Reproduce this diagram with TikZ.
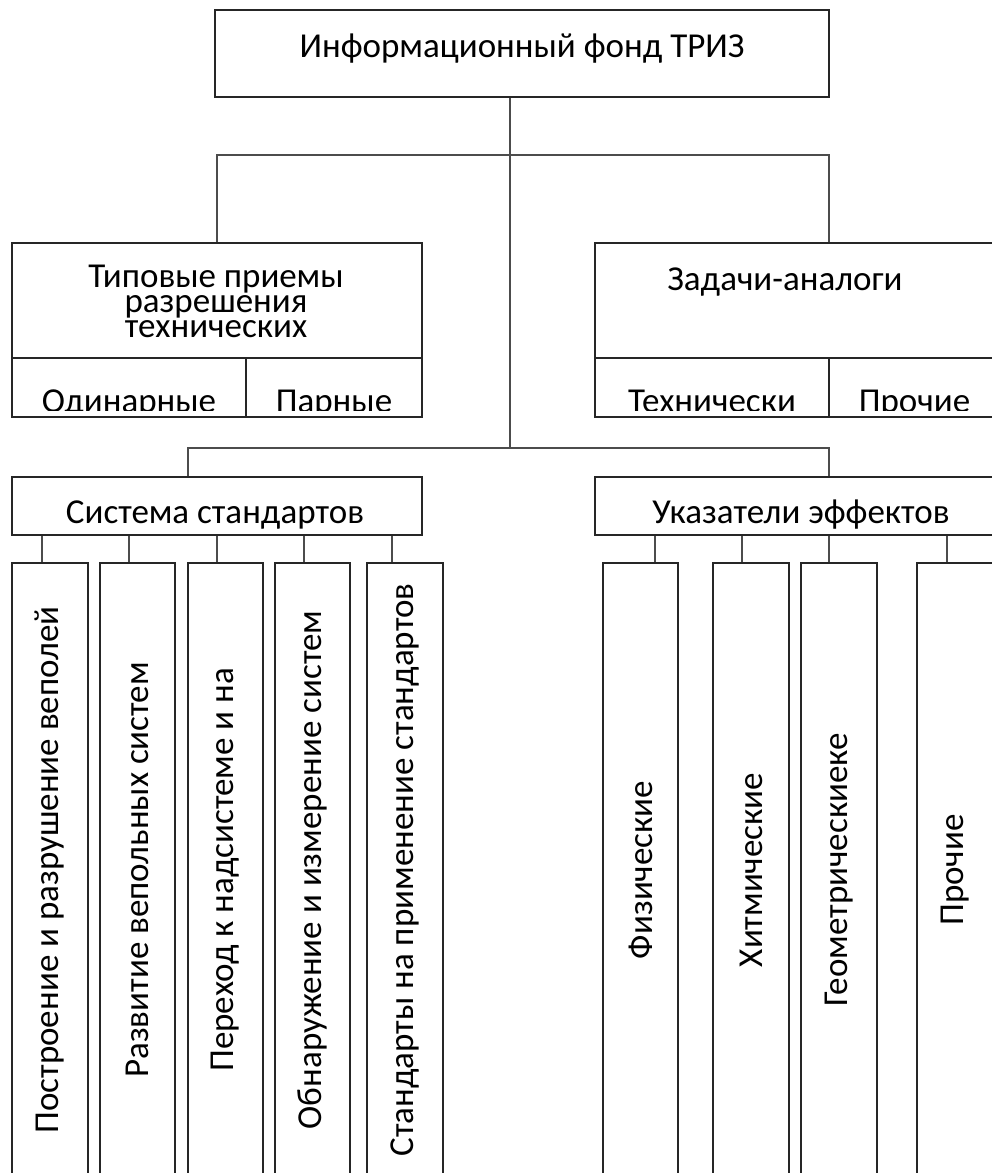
\documentclass[tikz,border=0pt]{standalone}
\usepackage{fontspec}
\setmainfont{Carlito}
\usetikzlibrary{positioning}
\usetikzlibrary{calc}

\begin{document}
\begin{tikzpicture}[x=1pt, y=-1pt,
	fundBox/.style={rectangle, draw=black!85, line width=1.9pt, inner sep=0pt},
	vertBox/.style={fundBox, minimum width=76pt, minimum height=614pt, font=\fontsize{35}{40}\selectfont},
	link/.style={draw=black!70, line width=2pt},
	caption/.style={inner sep=0pt, anchor=base, font=\fontsize{35}{25}\selectfont}]
	\useasboundingbox (0,0) rectangle (992,1173);
	\clip (0,0) rectangle (992,1173);
	\fill[white] (0,0) rectangle (992,1173);

	\node[fundBox, minimum width=614pt, minimum height=87pt] (fond) at (522,53.5) {};
	\node[caption] (fondText) at (522,57) {Информационный фонд ТРИЗ};

	\node[fundBox, minimum width=410pt, minimum height=174pt] (priemy) at (217,330) {};
	\node[fundBox, minimum width=234pt, minimum height=59pt] (odin) at (129,387.5) {};
	\node[fundBox, minimum width=176pt, minimum height=59pt] (parn) at (334,387.5) {};
	\node[caption, anchor=north, align=center] (priemyText) at (216,265) {Типовые приемы\\разрешения\\технических};

	\node[fundBox, minimum width=405pt, minimum height=174pt] (zadachi) at (797.5,330) {};
	\node[fundBox, minimum width=234pt, minimum height=59pt] (tekh) at (712,387.5) {};
	\node[fundBox, minimum width=171pt, minimum height=59pt] (proch) at (914.5,387.5) {};
	\node[caption] (zadachiText) at (785,290) {Задачи-аналоги};

	\begin{scope}
		\clip (odin.north west) rectangle ([yshift=7pt]parn.south east);
		\node[caption] (odinText) at ([yshift=5pt]odin.south) {Одинарные};
		\node[caption] (parnText) at ([yshift=5pt]parn.south) {Парные};
	\end{scope}
	\begin{scope}
		\clip (tekh.north west) rectangle ([yshift=7pt]proch.south east);
		\node[caption] (tekhText) at ([yshift=5pt]tekh.south) {Технически};
		\node[caption] (prochText) at ([yshift=5pt]proch.south) {Прочие};
	\end{scope}

	\node[fundBox, minimum width=410pt, minimum height=58pt] (sistema) at (217,506) {};
	\node[caption] (sistemaText) at (215,523) {Система стандартов};
	\node[fundBox, minimum width=405pt, minimum height=58pt] (ukazateli) at (797.5,506) {};
	\node[caption] (ukazateliText) at (801,523) {Указатели эффектов};

	\node[vertBox] (s1) at (50,870) {\rotatebox{90}{Построение и разрушение веполей}};
	\node[vertBox, minimum width=75pt] (s2) at (137.5,870) {\rotatebox{90}{Развитие вепольных систем}};
	\node[vertBox, minimum width=75pt] (s3) at (225.5,870) {\rotatebox{90}{Переход к надсистеме и на}};
	\node[vertBox, minimum width=75pt] (s4) at (312.5,870) {\rotatebox{90}{Обнаружение и измерение систем}};
	\node[vertBox] (s5) at (405,870) {\rotatebox{90}{Стандарты на применение стандартов}};

	\node[vertBox, minimum width=75pt] (u1) at (640.5,870) {\rotatebox{90}{Физические}};
	\node[vertBox] (u2) at (751,870) {\rotatebox{90}{Хитмические}};
	\node[vertBox] (u3) at (839,870) {\rotatebox{90}{Геометрическиеке}};
	\node[vertBox] (u4) at (955,870) {\rotatebox{90}{Прочие}};

	\coordinate (hubTop) at (510,155);
	\coordinate (hubMid) at (510,448);
	\draw[link] ([xshift=-12pt]fond.south) -- (hubMid);
	\draw[link] (priemy.north) |- (hubTop) -| ([xshift=31pt]zadachi.north);
	\draw[link] ([xshift=-29pt]sistema.north) |- (hubMid) -| ([xshift=31pt]ukazateli.north);

	\draw[link] ([xshift=-8pt]s1.north) -- ([xshift=-8pt]s1.north |- sistema.south);
	\draw[link] ([xshift=-8.5pt]s2.north) -- ([xshift=-8.5pt]s2.north |- sistema.south);
	\draw[link] ([xshift=-8.5pt]s3.north) -- ([xshift=-8.5pt]s3.north |- sistema.south);
	\draw[link] ([xshift=-8.5pt]s4.north) -- ([xshift=-8.5pt]s4.north |- sistema.south);
	\draw[link] ([xshift=-13pt]s5.north) -- ([xshift=-13pt]s5.north |- sistema.south);

	\draw[link] ([xshift=14.5pt]u1.north) -- ([xshift=14.5pt]u1.north |- ukazateli.south);
	\draw[link] ([xshift=-9pt]u2.north) -- ([xshift=-9pt]u2.north |- ukazateli.south);
	\draw[link] ([xshift=-10pt]u3.north) -- ([xshift=-10pt]u3.north |- ukazateli.south);
	\draw[link] ([xshift=-8pt]u4.north) -- ([xshift=-8pt]u4.north |- ukazateli.south);
\end{tikzpicture}
\end{document}
